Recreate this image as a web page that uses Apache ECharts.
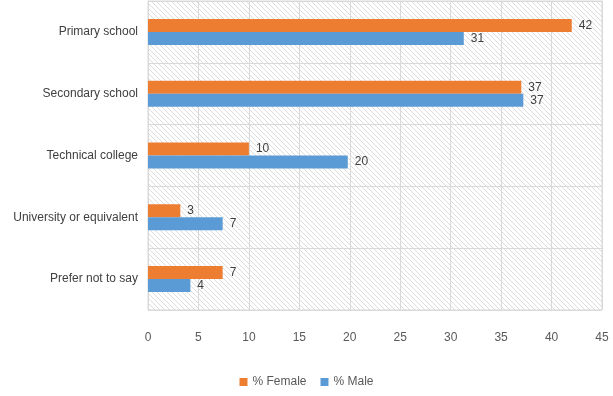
<!DOCTYPE html>
<html>
<head>
<meta charset="utf-8">
<script src="https://cdn.jsdelivr.net/npm/echarts@6/dist/echarts.min.js"></script>
<style>
  html, body { margin: 0; padding: 0; background: #fff; }
  #chart { width: 613px; height: 396px; }
</style>
</head>
<body>
<div id="chart"></div>
<script>
const categories = ['Primary school', 'Secondary school', 'Technical college', 'University or equivalent', 'Prefer not to say'];
const female = [42, 37, 10, 3.2, 7.4];
const male = [31.3, 37.2, 19.8, 7.4, 4.2];
const xTicks = [0, 5, 10, 15, 20, 25, 30, 35, 40, 45];

// light diagonal hatch used behind the plot
function hatch() {
    const c = document.createElement('canvas');
    c.width = 5; c.height = 5;
    const g = c.getContext('2d');
    g.fillStyle = '#ffffff';
    g.fillRect(0, 0, 5, 5);
    g.strokeStyle = '#dcdcdc';
    g.lineWidth = 1;
    g.beginPath();
    g.moveTo(0, 0); g.lineTo(5, 5);
    g.moveTo(-3, 2); g.lineTo(3, 8);
    g.moveTo(2, -3); g.lineTo(8, 3);
    g.stroke();
    return c;
}

const myChart = echarts.init(document.getElementById('chart'));
const font = '"Liberation Sans Narrow", "Liberation Sans", sans-serif';

const labelStyle = {
    show: true,
    position: 'right',
    distance: 7,
    color: '#404040',
    fontFamily: font,
    fontSize: 12,
    formatter: p => Math.round(p.value)
};

const option = {
    animation: false,
    textStyle: { fontFamily: font },
    grid: {
        left: 148, right: 11, top: 1, bottom: 86,
        show: true,
        backgroundColor: { image: hatch(), repeat: 'repeat' },
        borderColor: '#d9d9d9',
        borderWidth: 1
    },
    legend: {
        bottom: 3,
        left: 'center',
        itemWidth: 8,
        itemHeight: 8,
        itemGap: 14,
        icon: 'rect',
        textStyle: { color: '#595959', fontSize: 12, fontFamily: font },
        data: ['% Female', '% Male']
    },
    xAxis: {
        type: 'value',
        min: xTicks[0],
        max: xTicks[xTicks.length - 1],
        interval: 5,
        axisLine: { show: false },
        axisTick: { show: false },
        axisLabel: { color: '#595959', fontSize: 12, fontFamily: font, margin: 22 },
        splitLine: { lineStyle: { color: '#d9d9d9' } }
    },
    yAxis: {
        type: 'category',
        inverse: true,
        data: categories,
        axisLine: { lineStyle: { color: '#d9d9d9' } },
        axisTick: { show: false },
        axisLabel: { color: '#404040', fontSize: 12, fontFamily: font, margin: 10 },
        splitLine: { show: true, lineStyle: { color: '#d9d9d9' } }
    },
    series: [
        {
            name: '% Female',
            type: 'bar',
            data: female,
            barWidth: 13,
            barGap: '0%',
            itemStyle: { color: '#ED7D31' },
            label: labelStyle
        },
        {
            name: '% Male',
            type: 'bar',
            data: male,
            barWidth: 13,
            barGap: '0%',
            itemStyle: { color: '#5B9BD5' },
            label: labelStyle
        }
    ]
};

myChart.setOption(option);
</script>
</body>
</html>
